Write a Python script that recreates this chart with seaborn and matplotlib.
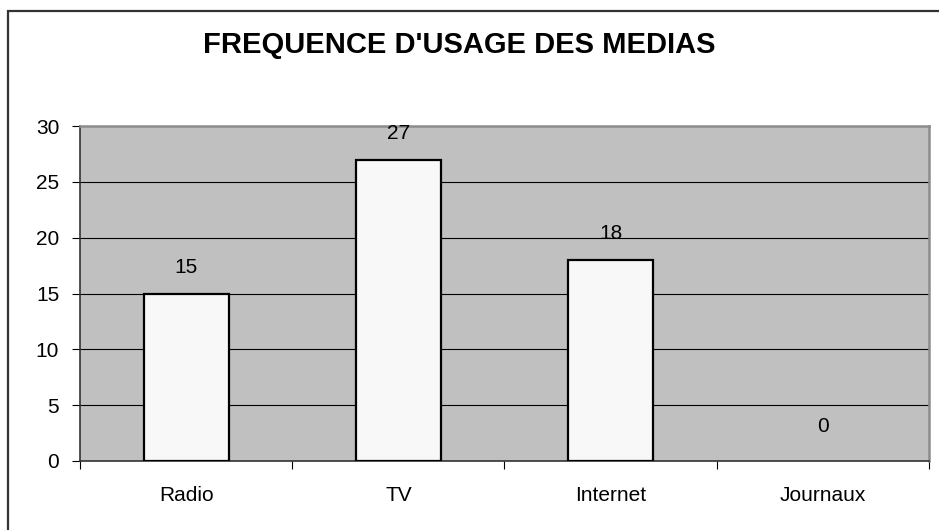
import matplotlib
matplotlib.use("Agg")
import matplotlib.pyplot as plt
import matplotlib.patches as mpatches
import seaborn as sns
import pandas as pd

# chart data
medias = ["Radio", "TV", "Internet", "Journaux"]
frequence = [15, 27, 18, 0]
y_ticks = [0, 5, 10, 15, 20, 25, 30]

df = pd.DataFrame({"Media": medias, "Frequence": frequence})

plt.rcParams["font.family"] = ["Liberation Sans", "DejaVu Sans"]

W, H = 939, 530
fig = plt.figure(figsize=(W / 100, H / 100), dpi=100)
fig.patch.set_facecolor("white")

# outer chart border (only top and left visible)
fig.patches.append(mpatches.Rectangle((8 / W, -0.2), 1.5, 1.2 - 10.5 / H,
                                      transform=fig.transFigure, fill=False,
                                      edgecolor="#333333", lw=1.6))

ax = fig.add_axes([80 / W, (H - 461) / H, (929 - 80) / W, (461 - 126) / H])
ax.set_facecolor("#C0C0C0")

sns.barplot(data=df, x="Media", y="Frequence", order=medias, width=0.4,
            color="#F8F8F8", edgecolor="black", linewidth=1.6, saturation=1,
            ax=ax, zorder=3)
# empty bar: no outline
for p in ax.patches:
    if p.get_height() == 0:
        p.set_linewidth(0)

ax.set_ylim(0, 30)
ax.set_xlim(-0.5, len(medias) - 0.5)
ax.set_yticks(y_ticks)
for v in y_ticks[1:-1]:
    ax.axhline(v, color="black", lw=0.8, zorder=1)

for i, v in enumerate(frequence):
    ax.annotate(str(v), (i, v), xytext=(0, 12 if v else 18),
                textcoords="offset points",
                ha="center", va="bottom", fontsize=15)

ax.set_xlabel("")
ax.set_ylabel("")
ax.tick_params(axis="y", labelsize=15, length=6, width=0.8, pad=9, color="black")
ax.tick_params(axis="x", which="major", labelsize=15, length=0, pad=18)
ax.set_xticks([i + 0.5 for i in range(-1, len(medias))], minor=True)
ax.tick_params(axis="x", which="minor", length=6, width=0.8, color="black")

for s in ["top", "right"]:
    ax.spines[s].set_color("#8C8C8C")
    ax.spines[s].set_linewidth(1.8)
for s in ["left", "bottom"]:
    ax.spines[s].set_color("#333333")
    ax.spines[s].set_linewidth(1.2)

fig.text((218 + 700) / 2 / W, 1 - 45 / H, "FREQUENCE D'USAGE DES MEDIAS",
         ha="center", va="center", fontsize=21, fontweight="bold")

fig.savefig("out.png", dpi=100)
